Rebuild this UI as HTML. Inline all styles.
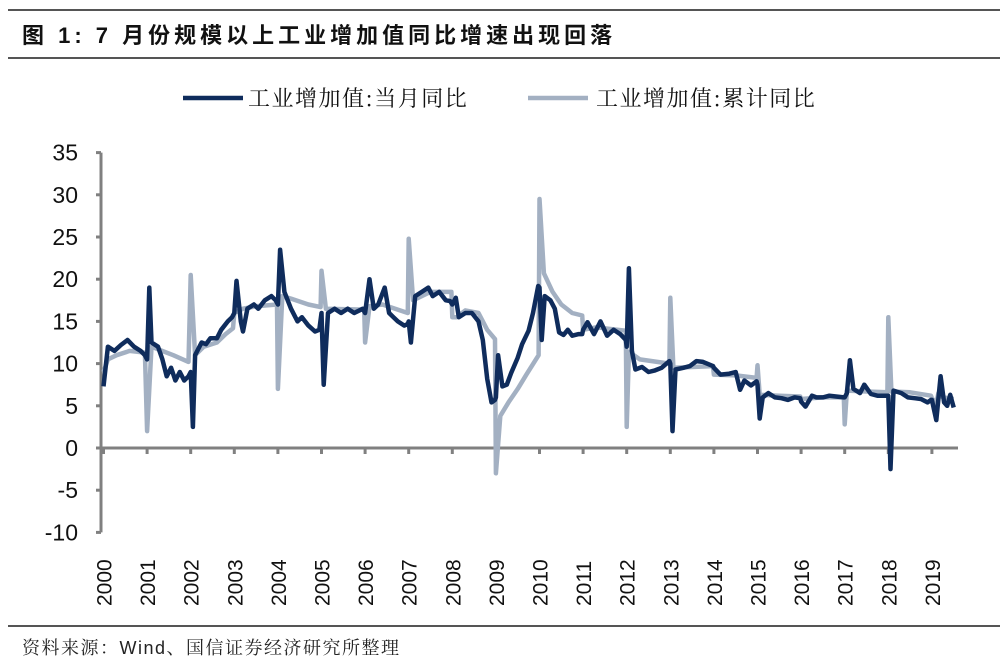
<!DOCTYPE html>
<html><head><meta charset="utf-8">
<style>
html,body{margin:0;padding:0;background:#fff;}
body{width:1000px;height:662px;position:relative;overflow:hidden;font-family:"Liberation Sans","Noto Sans CJK SC",sans-serif;}
.hl{position:absolute;left:8px;width:992px;height:2px;background:#555;}
</style></head><body>
<div class="hl" style="top:9px;"></div>
<div class="hl" style="top:57px;"></div>
<div class="hl" style="top:625px;"></div>
<div style="position:absolute;left:22px;top:18px;font-size:22px;font-weight:bold;color:#111;letter-spacing:4px;font-family:'Liberation Sans','Noto Sans CJK SC',sans-serif;">图 1: 7 月份规模以上工业增加值同比增速出现回落</div>
<div style="position:absolute;left:22px;top:634px;font-size:18px;color:#222;letter-spacing:1.5px;font-family:'Liberation Sans','Noto Serif CJK SC',serif;">资料来源：Wind、国信证券经济研究所整理</div>
<svg id="c" width="1000" height="662" style="position:absolute;left:0;top:0" xmlns="http://www.w3.org/2000/svg">
<g font-family="Liberation Sans, Noto Sans CJK SC, sans-serif" font-size="22" fill="#111">
<line x1="183" y1="98" x2="243" y2="98" stroke="#0f2c5c" stroke-width="4.5"/>
<text x="248" y="106" letter-spacing="1.5" font-family="Noto Serif CJK SC, serif">工业增加值:当月同比</text>
<line x1="528" y1="98" x2="588" y2="98" stroke="#a3b0c2" stroke-width="4.5"/>
<text x="596" y="106" letter-spacing="1.5" font-family="Noto Serif CJK SC, serif">工业增加值:累计同比</text>
</g>
<g id="axes"></g>
<polyline id="lt" fill="none" stroke="#a3b0c2" stroke-width="4.5" stroke-linejoin="round"/>
<polyline id="dk" fill="none" stroke="#0f2c5c" stroke-width="4.5" stroke-linejoin="round"/>
</svg>
<script>
var X0=103.5,XS=43.6,Y0=448,K=8.44;
function px(t){return X0+XS*t;} function py(v){return Y0-K*v;}
var ax=document.getElementById('axes'),s='';
s+='<line x1="101" y1="'+py(-10)+'" x2="101" y2="'+py(35)+'" stroke="#808080" stroke-width="3"/>';
for(var v=-10;v<=35;v+=5){var y=py(v);s+='<line x1="96" y1="'+y+'" x2="101" y2="'+y+'" stroke="#808080" stroke-width="3"/>';
s+='<text x="78" y="'+(y+8)+'" text-anchor="end" font-size="23" font-family="Liberation Sans,sans-serif" fill="#111">'+v+'</text>';}
s+='<line x1="100" y1="'+Y0+'" x2="958" y2="'+Y0+'" stroke="#808080" stroke-width="3"/>';
for(var yr=0;yr<20;yr++){var x=px(yr);s+='<line x1="'+x+'" y1="'+Y0+'" x2="'+x+'" y2="'+(Y0+6)+'" stroke="#808080" stroke-width="3"/>';
s+='<text transform="translate('+(x+8)+',606) rotate(-90)" font-size="21" font-family="Liberation Sans,sans-serif" fill="#111">'+(2000+yr)+'</text>';}
ax.innerHTML=s;
var dk=[[0,7.3],[0.1,12],[0.25,11.5],[0.4,12.2],[0.55,12.8],[0.7,12],[0.85,11.5],[0.95,11],
[1.0,10.5],[1.05,19],[1.1,12.5],[1.25,12],[1.35,10.5],[1.45,8.5],[1.55,9.5],[1.65,8],[1.75,9],[1.85,8],[1.95,8.5],
[2.0,9],[2.05,2.5],[2.1,11],[2.25,12.5],[2.35,12.3],[2.45,13],[2.6,13],[2.7,14],[2.85,15],[2.95,15.5],
[3.0,16],[3.05,19.8],[3.15,15],[3.2,13.8],[3.3,16.5],[3.45,17],[3.55,16.5],[3.7,17.5],[3.85,18],[3.95,17.5],
[4.0,17],[4.05,23.5],[4.15,18.5],[4.3,16.5],[4.45,15],[4.55,15.5],[4.7,14.5],[4.85,13.8],[4.95,14],
[5.0,16],[5.05,7.5],[5.15,16],[5.3,16.5],[5.45,16],[5.6,16.5],[5.75,16],[5.95,16.5],
[6.0,16],[6.1,20],[6.2,16.5],[6.3,17],[6.45,19],[6.55,16],[6.65,15.5],[6.75,15],[6.9,14.5],[6.98,14.7],
[7.0,15],[7.05,12.5],[7.15,18],[7.3,18.5],[7.45,19],[7.55,18],[7.7,18.5],[7.85,17.5],[7.95,17.4],
[8.0,17],[8.08,17.8],[8.15,15.5],[8.3,16],[8.45,16],[8.6,15],[8.7,12.8],[8.8,8.2],[8.9,5.4],[8.98,5.7],
[9.0,6],[9.05,11],[9.15,7.3],[9.25,7.5],[9.35,8.9],[9.5,10.7],[9.6,12.3],[9.75,13.9],[9.85,16],[9.97,19.2],
[10.0,19],[10.05,12.8],[10.12,18],[10.25,17.5],[10.35,16.5],[10.45,13.7],[10.55,13.4],[10.65,14],[10.75,13.3],[10.9,13.5],[10.98,13.5],
[11.0,14],[11.1,14.9],[11.25,13.5],[11.4,15],[11.55,13.3],[11.7,14],[11.85,13.5],[11.98,12.8],
[12.0,12],[12.05,21.3],[12.12,11.5],[12.2,9.3],[12.35,9.6],[12.5,9],[12.65,9.2],[12.8,9.5],[12.98,10.3],
[13.0,10],[13.05,2],[13.12,9.3],[13.3,9.5],[13.45,9.7],[13.6,10.3],[13.75,10.2],[13.98,9.7],
[14.0,9.5],[14.15,8.7],[14.35,8.8],[14.5,9],[14.6,6.9],[14.7,8],[14.85,7.4],[14.98,7.9],
[15.0,7.5],[15.05,3.5],[15.12,6],[15.25,6.5],[15.4,6],[15.55,5.9],[15.7,5.7],[15.85,6],[15.98,5.9],
[16.0,5.5],[16.1,4.9],[16.25,6.2],[16.35,6],[16.5,6],[16.65,6.2],[16.8,6.1],[16.98,6],
[17.0,6],[17.05,6.5],[17.12,10.4],[17.2,7],[17.35,6.5],[17.45,7.5],[17.6,6.4],[17.75,6.2],[17.98,6.2],
[18.0,6.2],[18.05,-2.5],[18.12,6.8],[18.3,6.5],[18.45,6],[18.6,5.9],[18.75,5.8],[18.9,5.4],[18.98,5.7],
[19.0,5.7],[19.1,3.3],[19.2,8.5],[19.28,5.4],[19.35,5],[19.42,6.3],[19.5,4.8]];
var lt=[[0,9],[0.1,10.5],[0.3,11],[0.6,11.5],[0.95,11.3],
[1.0,2],[1.1,12],[1.3,11.6],[1.6,11],[1.95,10.2],
[2.0,20.5],[2.1,11],[2.3,12],[2.6,12.5],[2.8,13.5],[2.97,14.2],
[3.0,16],[3.2,16.5],[3.5,16.8],[3.98,17],
[4.0,7],[4.1,18],[4.3,17.7],[4.7,17],[4.98,16.7],
[5.0,21],[5.1,16.5],[5.98,16.4],
[6.0,12.5],[6.1,16.8],[6.4,17],[6.98,16],
[7.0,24.8],[7.1,17.5],[7.5,18.5],[7.98,18.5],
[8.0,15.5],[8.1,15.5],[8.3,16.3],[8.6,16],[8.8,14],[8.98,12.9],
[9.0,-3],[9.1,3.8],[9.3,5.5],[9.5,7],[9.7,8.7],[9.98,11],
[10.0,29.5],[10.1,20.7],[10.3,18.5],[10.5,17],[10.75,16],[10.98,15.7],
[11.0,14],[11.3,14.3],[11.98,13.9],
[12.0,2.5],[12.05,11.4],[12.3,10.5],[12.98,10],
[13.0,17.8],[13.07,9.5],[13.5,9.6],[13.98,9.7],
[14.0,8.7],[14.5,8.6],[14.98,8.3],
[15.0,9.8],[15.05,6.3],[15.5,6.2],[15.98,6.1],
[16.0,5.8],[16.5,6],[16.98,6],
[17.0,2.8],[17.05,6.8],[17.5,6.7],[17.98,6.6],
[18.0,15.5],[18.07,6.7],[18.5,6.6],[18.98,6.2],
[19.0,5.9],[19.1,5.3],[19.15,6.5],[19.25,6],[19.5,5.8]];
function pts(a){return a.map(function(p){return px(p[0]).toFixed(1)+','+py(p[1]).toFixed(1);}).join(' ');}
document.getElementById('dk').setAttribute('points',pts(dk));
document.getElementById('lt').setAttribute('points',pts(lt));
</script>
</body></html>
